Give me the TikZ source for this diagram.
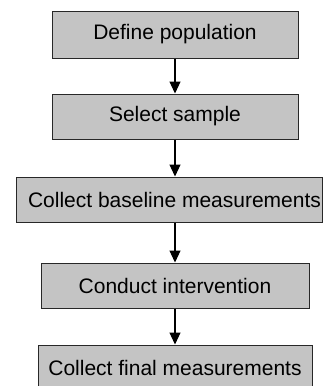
\documentclass[tikz,border=0pt]{standalone}
\usepackage{fontspec}
\setmainfont{Liberation Sans}
\usetikzlibrary{arrows.meta}
\definecolor{boxfill}{RGB}{196,196,196}
\definecolor{boxline}{RGB}{40,40,40}
\begin{document}
\begin{tikzpicture}[x=1pt,y=-1pt,
  stepbox/.style={draw=boxline, fill=boxfill, line width=1pt, rectangle, inner sep=0pt, minimum height=46pt, font=\fontsize{21}{25}\selectfont},
  lbl/.style={inner sep=0pt, font=\fontsize{21}{25}\selectfont},
  conn/.style={line width=1.2pt, -{Triangle[length=12pt,width=11pt]}}]
\useasboundingbox (0,0) rectangle (326,386);
\node[stepbox, minimum width=246pt, minimum height=47pt] (b1) at (175,34.5) {Define population};
\node[stepbox, minimum width=246pt, minimum height=45pt] (b2) at (175,116.5) {Select sample};
\node[stepbox, minimum width=306pt, minimum height=45pt] (b3) at (169,199.5) {};
\node[lbl] (t3) at (174.5,199.5) {Collect baseline measurements};
\node[stepbox, minimum width=268pt, minimum height=45pt] (b4) at (175,285.5) {Conduct intervention};
\node[stepbox, minimum width=274pt, minimum height=46pt] (b5) at (175,368) {Collect final measurements};
\draw[conn] (b1.south -| 175,0) -- (b2.north -| 175,0);
\draw[conn] (b2.south -| 175,0) -- (b3.north -| 175,0);
\draw[conn] (b3.south -| 175,0) -- (b4.north -| 175,0);
\draw[conn] (b4.south -| 175,0) -- (b5.north -| 175,0);
\end{tikzpicture}
\end{document}
